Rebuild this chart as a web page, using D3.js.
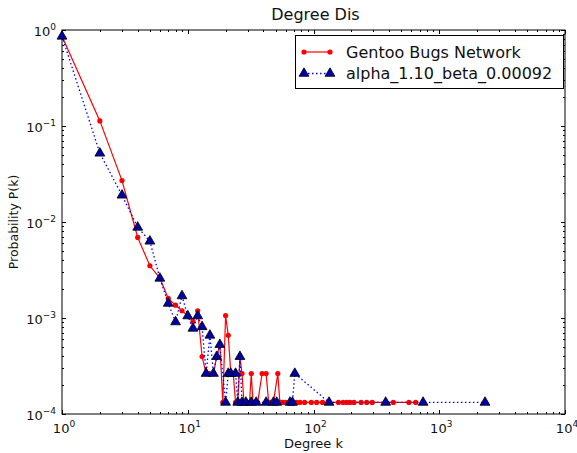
<!DOCTYPE html>
<html><head><meta charset="utf-8">
<script src="https://cdn.jsdelivr.net/npm/d3@7"></script>
<style>body{margin:0;background:#fff}text{font-family:"DejaVu Sans",sans-serif}</style>
</head><body><svg id="c" width="577" height="453"></svg>
<script>
const titleText = "Degree Dis";
const xLabel = "Degree k";
const yLabel = "Probability P(k)";
const seriesNames = ["Gentoo Bugs Network", "alpha_1.10_beta_0.00092"];
const xTickExps = [0, 1, 2, 3, 4];
const yTickExps = [-4, -3, -2, -1, 0];

const kRed = [1,2,3,4,5,6,7,8,9,10,11,12,13,14,15,16,17,18,19,20,21,22,23,24,25,26,27,28,29,30,31,32,33,35,36,39,42,44,46,48,52,54,55,57,60,64,67,73,78,85,96,106,118,131,158,172,184,195,210,239,265,293,431,574,650];
const pRed = [0.86,0.113,0.027,0.0069,0.0035,0.0026,0.0016,0.00136,0.00119,0.00106,0.00092,0.00119,0.000396,0.000264,0.000264,0.000264,0.000396,0.000528,0.000132,0.00106,0.00066,0.000264,0.000264,0.000132,0.000132,0.000396,0.000264,0.000132,0.000132,0.000132,0.000132,0.000264,0.000132,0.000132,0.000132,0.000264,0.000264,0.000132,0.000132,0.000132,0.000264,0.000132,0.000132,0.000132,0.000132,0.000132,0.000132,0.000132,0.000132,0.000132,0.000132,0.000132,0.000132,0.000132,0.000132,0.000132,0.000132,0.000132,0.000132,0.000132,0.000132,0.000132,0.000132,0.000132,0.000132];
const kBlue = [1,2,3,4,5,6,7,8,9,10,11,12,13,14,15,16,17,18,20,21,22,24,25,26,27,29,32,35,42,48,51,65,68,71,133,375,744,2312];
const pBlue = [0.86,0.052,0.019,0.0088,0.0063,0.00259,0.00142,0.00091,0.0017,0.00105,0.00078,0.00105,0.00081,0.000264,0.00066,0.000264,0.000396,0.000528,0.000132,0.000264,0.000264,0.000264,0.000132,0.000396,0.000132,0.000132,0.000132,0.000132,0.000132,0.000132,0.000132,0.000132,0.000132,0.000264,0.000132,0.000132,0.000132,0.000132];

const L = 62, R = 565, T = 30, B = 414;
const svg = d3.select("#c");
const x = d3.scaleLog().domain([1, 1e4]).range([L, R]);
const y = d3.scaleLog().domain([1e-4, 1]).range([B, T]);

const red = "#ff0000", blue = "#0000ff", navy = "#0000a8";

// frame
svg.append("rect").attr("x", L).attr("y", T).attr("width", R - L).attr("height", B - T)
  .attr("fill", "none").attr("stroke", "#000").attr("stroke-width", 1);

// ticks (inside, all four sides)
const xMinor = [], yMinor = [];
for (let e = 0; e < 4; e++) for (let m = 2; m <= 9; m++) xMinor.push(m * Math.pow(10, e));
for (let e = -4; e < 0; e++) for (let m = 2; m <= 9; m++) yMinor.push(m * Math.pow(10, e));
const tg = svg.append("g").attr("stroke", "#000").attr("stroke-width", 1);
xTickExps.forEach(e => {
  const px = Math.round(x(Math.pow(10, e))) + 0.5;
  tg.append("line").attr("x1", px).attr("x2", px).attr("y1", B).attr("y2", B - 4);
  tg.append("line").attr("x1", px).attr("x2", px).attr("y1", T).attr("y2", T + 4);
});
xMinor.forEach(v => {
  const px = Math.round(x(v)) + 0.5;
  tg.append("line").attr("x1", px).attr("x2", px).attr("y1", B).attr("y2", B - 2);
  tg.append("line").attr("x1", px).attr("x2", px).attr("y1", T).attr("y2", T + 2);
});
yTickExps.forEach(e => {
  const py = Math.round(y(Math.pow(10, e))) + 0.5;
  tg.append("line").attr("y1", py).attr("y2", py).attr("x1", L).attr("x2", L + 4);
  tg.append("line").attr("y1", py).attr("y2", py).attr("x1", R).attr("x2", R - 4);
});
yMinor.forEach(v => {
  const py = Math.round(y(v)) + 0.5;
  tg.append("line").attr("y1", py).attr("y2", py).attr("x1", L).attr("x2", L + 2);
  tg.append("line").attr("y1", py).attr("y2", py).attr("x1", R).attr("x2", R - 2);
});

// tick labels
function powLabel(g, e, anchor) {
  const t = g.append("text").attr("text-anchor", anchor).attr("fill", "#111");
  t.append("tspan").attr("font-size", 13).text("10");
  t.append("tspan").attr("font-size", 9).attr("dy", -6).text(String(e).replace("-", "\u2212"));
  return t;
}
xTickExps.forEach(e => {
  powLabel(svg, e, "middle").attr("x", x(Math.pow(10, e)) + 2).attr("y", B + 19);
});
yTickExps.forEach(e => {
  powLabel(svg, e, "end").attr("x", L - 6).attr("y", y(Math.pow(10, e)) + 6);
});

// title & axis labels
svg.append("text").attr("x", (L + R) / 2 + 2).attr("y", 20).attr("text-anchor", "middle")
  .attr("font-size", 16).attr("fill", "#111").text(titleText);
svg.append("text").attr("x", (L + R) / 2).attr("y", 448).attr("text-anchor", "middle")
  .attr("font-size", 13).attr("fill", "#111").text(xLabel);
svg.append("text").attr("transform", `translate(18,${(T + B) / 2}) rotate(-90)`)
  .attr("text-anchor", "middle").attr("font-size", 12.5).attr("fill", "#111").text(yLabel);

// data
const plot = svg.append("g");
const redData = kRed.map((k, i) => [k, pRed[i]]);
const blueData = kBlue.map((k, i) => [k, pBlue[i]]);
const line = d3.line().x(d => x(d[0])).y(d => y(d[1]));
const tri = d3.symbol().type(d3.symbolTriangle).size(42);

plot.append("path").datum(redData).attr("d", line).attr("fill", "none")
  .attr("stroke", red).attr("stroke-width", 1.2);
plot.selectAll("circle.r").data(redData).enter().append("circle")
  .attr("cx", d => x(d[0])).attr("cy", d => y(d[1])).attr("r", 2.6).attr("fill", red);

plot.append("path").datum(blueData).attr("d", line).attr("fill", "none")
  .attr("stroke", blue).attr("stroke-width", 1.3).attr("stroke-dasharray", "1.5,2.5");
plot.selectAll("path.b").data(blueData).enter().append("path")
  .attr("d", tri).attr("transform", d => `translate(${x(d[0])},${y(d[1])})`)
  .attr("fill", navy).attr("stroke", "#000").attr("stroke-width", 0.8);

// legend
const lg = svg.append("g");
lg.append("rect").attr("x", 295.5).attr("y", 35.5).attr("width", 268).attr("height", 53)
  .attr("fill", "#fff").attr("stroke", "#000").attr("stroke-width", 1);
const r1 = 52, r2 = 73.5, lx1 = 304, lx2 = 330;
lg.append("line").attr("x1", lx1).attr("x2", lx2).attr("y1", r1).attr("y2", r1)
  .attr("stroke", red).attr("stroke-width", 1.2);
[lx1, lx2].forEach(px => lg.append("circle").attr("cx", px).attr("cy", r1).attr("r", 2.6).attr("fill", red));
lg.append("line").attr("x1", lx1).attr("x2", lx2).attr("y1", r2).attr("y2", r2)
  .attr("stroke", blue).attr("stroke-width", 1.3).attr("stroke-dasharray", "1.5,2.5");
[lx1, lx2].forEach(px => lg.append("path").attr("d", tri).attr("transform", `translate(${px},${r2})`)
  .attr("fill", navy).attr("stroke", "#000").attr("stroke-width", 0.8));
lg.append("text").attr("x", 346).attr("y", r1 + 5.5).attr("font-size", 16).attr("fill", "#111").text(seriesNames[0]);
lg.append("text").attr("x", 346).attr("y", r2 + 5.5).attr("font-size", 16).attr("fill", "#111").text(seriesNames[1]);
</script></body></html>
